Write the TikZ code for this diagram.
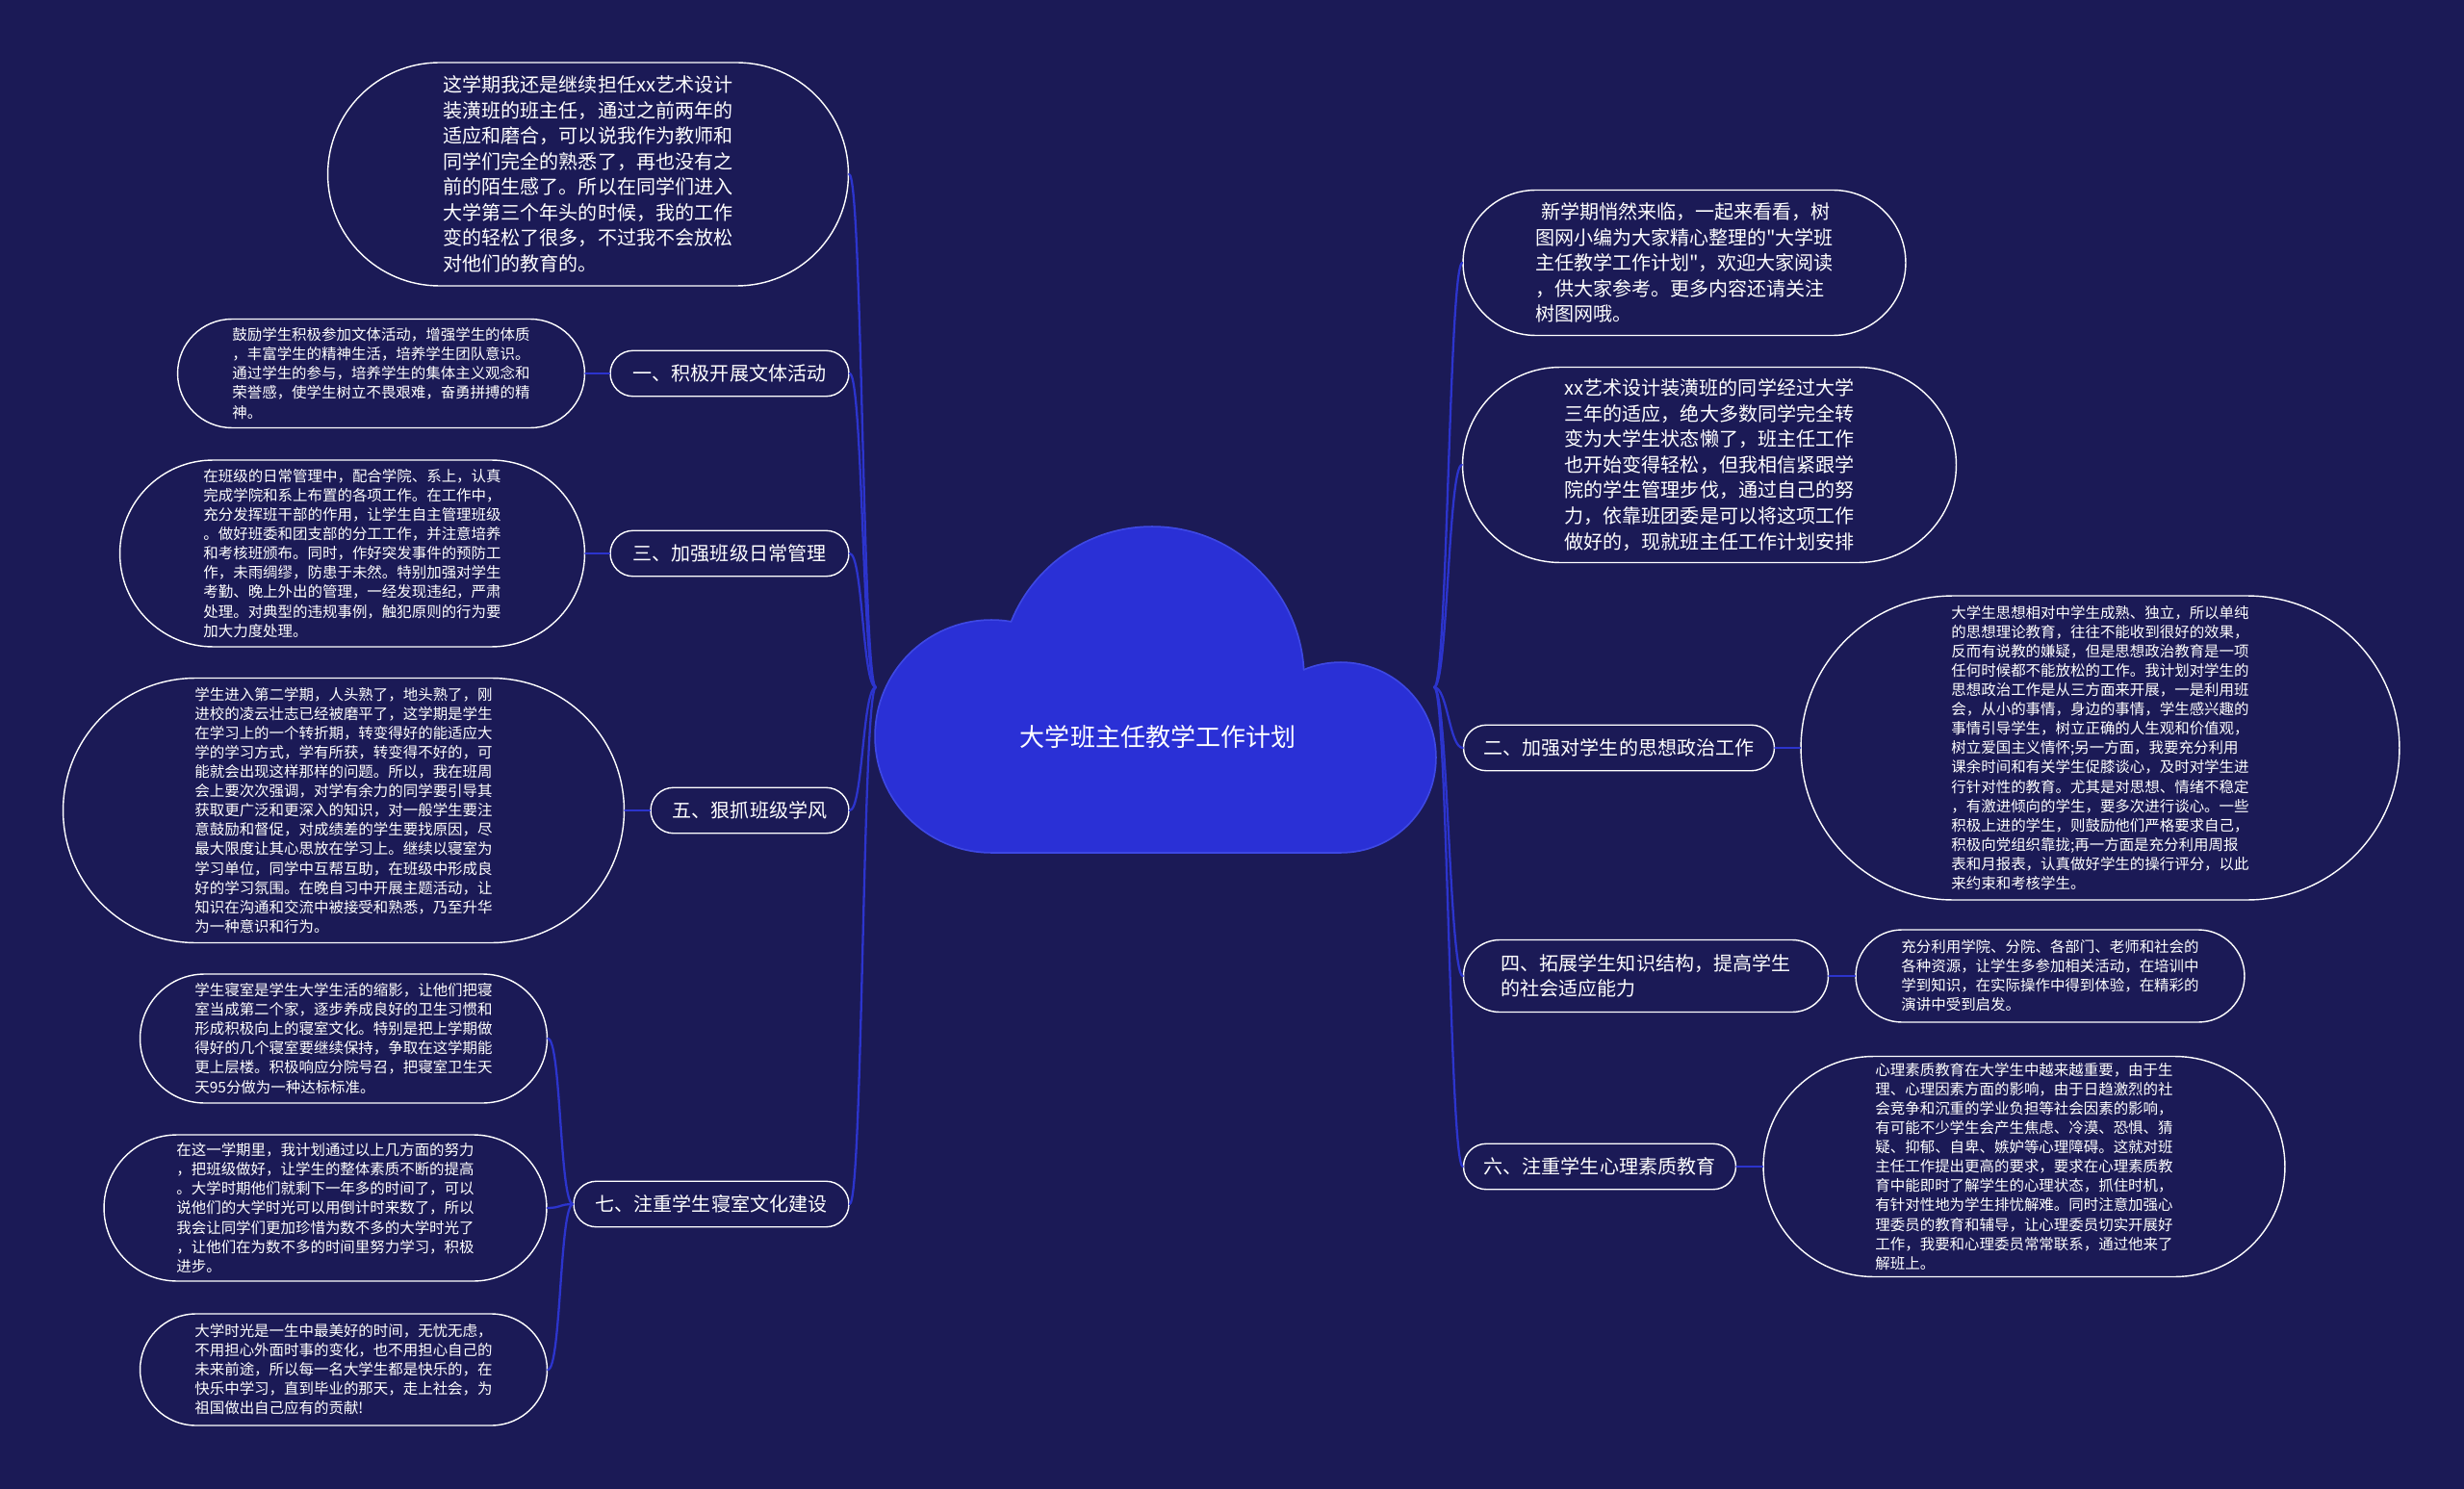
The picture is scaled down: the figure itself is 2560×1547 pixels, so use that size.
\documentclass[tikz,border=0pt]{standalone}
\usepackage{fontspec}
\setmainfont{Noto Sans CJK SC}[Ligatures=TeXOff]
\usetikzlibrary{shapes.misc}
\definecolor{bgblue}{RGB}{27,26,86}
\definecolor{cloudblue}{RGB}{42,48,214}
\definecolor{cloudedge}{RGB}{62,72,228}
\definecolor{linkblue}{RGB}{44,52,205}

\begin{document}
\begin{tikzpicture}[x=0.02cm, y=-0.02cm, line join=round, line cap=round,
    pill/.style={rounded rectangle, draw=white, line width=0.8pt, fill=bgblue, text=white, inner sep=0pt, align=left},
    topic/.style={pill, font=\fontsize{11.4}{15}\selectfont, minimum height=0.95cm},
    intro/.style={pill, font=\fontsize{11.4}{15.1}\selectfont},
    detail/.style={pill, font=\fontsize{8.8}{11.4}\selectfont},
    link/.style={draw=linkblue, line width=1.3pt}]

    % 背景 (同时固定整幅图的大小)
    \fill[bgblue] (0,0) rectangle (2560,1547);

    % 中心云朵：先画轮廓，再整体填充，得到并集的外边
    \foreach \cx/\cy/\r in {1197/705/157, 1030/765/120, 1393/787/98}
        \draw[cloudedge, line width=2pt] (\cx,\cy) circle (\r);
    \draw[cloudedge, line width=2pt] (1030,700) rectangle (1393,885);
    \foreach \cx/\cy/\r in {1197/705/157, 1030/765/120, 1393/787/98}
        \fill[cloudblue] (\cx,\cy) circle (\r);
    \fill[cloudblue] (1030,700) rectangle (1393,885);
    \node[text=white, font=\fontsize{14.8}{18}\selectfont] (root) at (1203,766) {大学班主任教学工作计划};
    \coordinate (rootL) at (910,714);
    \coordinate (rootR) at (1490,714);

    % 1. 左侧分支
    \node[intro, minimum width=10.82cm, minimum height=4.64cm] (tl) at (611,181) {这学期我还是继续担任xx艺术设计\\装潢班的班主任，通过之前两年的\\适应和磨合，可以说我作为教师和\\同学们完全的熟悉了，再也没有之\\前的陌生感了。所以在同学们进入\\大学第三个年头的时候，我的工作\\变的轻松了很多，不过我不会放松\\对他们的教育的。};

    \node[topic, minimum width=4.96cm] (t1) at (758,388) {一、积极开展文体活动};
    \node[detail, minimum width=8.46cm, minimum height=2.26cm] (d1) at (396,388) {鼓励学生积极参加文体活动，增强学生的体质\\，丰富学生的精神生活，培养学生团队意识。\\通过学生的参与，培养学生的集体主义观念和\\荣誉感，使学生树立不畏艰难，奋勇拼搏的精\\神。};

    \node[topic, minimum width=4.96cm] (t3) at (758,575) {三、加强班级日常管理};
    \node[detail, minimum width=9.66cm, minimum height=3.88cm] (d3) at (366,575) {在班级的日常管理中，配合学院、系上，认真\\完成学院和系上布置的各项工作。在工作中，\\充分发挥班干部的作用，让学生自主管理班级\\。做好班委和团支部的分工工作，并注意培养\\和考核班颁布。同时，作好突发事件的预防工\\作，未雨绸缪，防患于未然。特别加强对学生\\考勤、晚上外出的管理，一经发现违纪，严肃\\处理。对典型的违规事例，触犯原则的行为要\\加大力度处理。};

    \node[topic, minimum width=4.12cm] (t5) at (779,842) {五、狠抓班级学风};
    \node[detail, minimum width=11.66cm, minimum height=5.5cm] (d5) at (357,842) {学生进入第二学期，人头熟了，地头熟了，刚\\进校的凌云壮志已经被磨平了，这学期是学生\\在学习上的一个转折期，转变得好的能适应大\\学的学习方式，学有所获，转变得不好的，可\\能就会出现这样那样的问题。所以，我在班周\\会上要次次强调，对学有余力的同学要引导其\\获取更广泛和更深入的知识，对一般学生要注\\意鼓励和督促，对成绩差的学生要找原因，尽\\最大限度让其心思放在学习上。继续以寝室为\\学习单位，同学中互帮互助，在班级中形成良\\好的学习氛围。在晚自习中开展主题活动，让\\知识在沟通和交流中被接受和熟悉，乃至升华\\为一种意识和行为。};

    \node[topic, minimum width=5.72cm] (t7) at (739,1251) {七、注重学生寝室文化建设};
    \node[detail, minimum width=8.46cm, minimum height=2.68cm] (d7a) at (357,1079) {学生寝室是学生大学生活的缩影，让他们把寝\\室当成第二个家，逐步养成良好的卫生习惯和\\形成积极向上的寝室文化。特别是把上学期做\\得好的几个寝室要继续保持，争取在这学期能\\更上层楼。积极响应分院号召，把寝室卫生天\\天95分做为一种达标标准。};
    \node[detail, minimum width=9.2cm, minimum height=3.04cm] (d7b) at (338,1255) {在这一学期里，我计划通过以上几方面的努力\\，把班级做好，让学生的整体素质不断的提高\\。大学时期他们就剩下一年多的时间了，可以\\说他们的大学时光可以用倒计时来数了，所以\\我会让同学们更加珍惜为数不多的大学时光了\\，让他们在为数不多的时间里努力学习，积极\\进步。};
    \node[detail, minimum width=8.46cm, minimum height=2.32cm] (d7c) at (357,1423) {大学时光是一生中最美好的时间，无忧无虑，\\不用担心外面时事的变化，也不用担心自己的\\未来前途，所以每一名大学生都是快乐的，在\\快乐中学习，直到毕业的那天，走上社会，为\\祖国做出自己应有的贡献!};

    % 2. 右侧分支
    \node[intro, minimum width=9.2cm, minimum height=3.02cm] (r0) at (1750,273) {\hspace{0.3em}新学期悄然来临，一起来看看，树\\图网小编为大家精心整理的"大学班\\主任教学工作计划"，欢迎大家阅读\\，供大家参考。更多内容还请关注\\树图网哦。};
    \node[intro, minimum width=10.26cm, minimum height=4.06cm] (r1) at (1776,483) {xx艺术设计装潢班的同学经过大学\\三年的适应，绝大多数同学完全转\\变为大学生状态懒了，班主任工作\\也开始变得轻松，但我相信紧跟学\\院的学生管理步伐，通过自己的努\\力，依靠班团委是可以将这项工作\\做好的，现就班主任工作计划安排};

    \node[topic, minimum width=6.46cm] (t2) at (1682,777) {二、加强对学生的思想政治工作};
    \node[detail, minimum width=12.44cm, minimum height=6.32cm] (d2) at (2182,777) {大学生思想相对中学生成熟、独立，所以单纯\\的思想理论教育，往往不能收到很好的效果，\\反而有说教的嫌疑，但是思想政治教育是一项\\任何时候都不能放松的工作。我计划对学生的\\思想政治工作是从三方面来开展，一是利用班\\会，从小的事情，身边的事情，学生感兴趣的\\事情引导学生，树立正确的人生观和价值观，\\树立爱国主义情怀;另一方面，我要充分利用\\课余时间和有关学生促膝谈心，及时对学生进\\行针对性的教育。尤其是对思想、情绪不稳定\\，有激进倾向的学生，要多次进行谈心。一些\\积极上进的学生，则鼓励他们严格要求自己，\\积极向党组织靠拢;再一方面是充分利用周报\\表和月报表，认真做好学生的操行评分，以此\\来约束和考核学生。};

    \node[topic, minimum width=7.58cm, minimum height=1.5cm] (t4) at (1710,1014) {四、拓展学生知识结构，提高学生\\的社会适应能力};
    \node[detail, minimum width=8.08cm, minimum height=1.92cm] (d4) at (2130,1014) {充分利用学院、分院、各部门、老师和社会的\\各种资源，让学生多参加相关活动，在培训中\\学到知识，在实际操作中得到体验，在精彩的\\演讲中受到启发。};

    \node[topic, minimum width=5.66cm] (t6) at (1662,1212) {六、注重学生心理素质教育};
    \node[detail, minimum width=10.84cm, minimum height=4.58cm] (d6) at (2103,1212) {心理素质教育在大学生中越来越重要，由于生\\理、心理因素方面的影响，由于日趋激烈的社\\会竞争和沉重的学业负担等社会因素的影响，\\有可能不少学生会产生焦虑、冷漠、恐惧、猜\\疑、抑郁、自卑、嫉妒等心理障碍。这就对班\\主任工作提出更高的要求，要求在心理素质教\\育中能即时了解学生的心理状态，抓住时机，\\有针对性地为学生排忧解难。同时注意加强心\\理委员的教育和辅导，让心理委员切实开展好\\工作，我要和心理委员常常联系，通过他来了\\解班上。};

    % 3. 连线
    \foreach \n in {tl,t1,t3,t5,t7}
        \draw[link] (rootL) .. controls +(-14,0) and +(14,0) .. (\n.east);
    \foreach \n in {r0,r1,t2,t4,t6}
        \draw[link] (rootR) .. controls +(14,0) and +(-14,0) .. (\n.west);
    \foreach \n in {d7a,d7b,d7c}
        \draw[link] (t7.west) .. controls +(-14,0) and +(14,0) .. (\n.east);
    \draw[link] (t1.west) -- (d1.east);
    \draw[link] (t3.west) -- (d3.east);
    \draw[link] (t5.west) -- (d5.east);
    \draw[link] (t2.east) -- (d2.west);
    \draw[link] (t4.east) -- (d4.west);
    \draw[link] (t6.east) -- (d6.west);
\end{tikzpicture}
\end{document}
